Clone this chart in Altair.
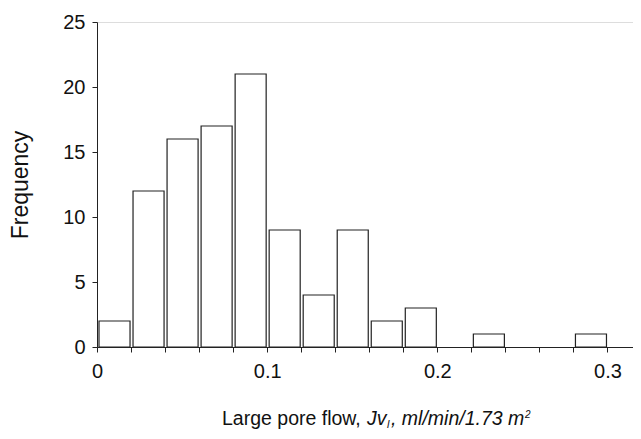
import altair as alt
import pandas as pd

# Histogram bins (width 0.02) and counts
bin_starts = [0.00, 0.02, 0.04, 0.06, 0.08, 0.10, 0.12, 0.14, 0.16, 0.18, 0.20, 0.22, 0.24, 0.26, 0.28]
counts = [2, 12, 16, 17, 21, 9, 4, 9, 2, 3, 0, 1, 0, 0, 1]
bin_width = 0.02

x_tick_values = [round(i * 0.02, 2) for i in range(16)]
y_tick_values = [0, 5, 10, 15, 20, 25]

df = pd.DataFrame({
    "start": bin_starts,
    "end": [round(s + bin_width, 2) for s in bin_starts],
    "count": counts,
})

FONT = "Liberation Sans"
W, H = 536, 325
TFS = 19.5  # title font size

bars = alt.Chart(df).transform_filter("datum.count > 0").mark_bar(
    fill="white", stroke="#222", strokeWidth=1.2, binSpacing=3
).encode(
    x=alt.X("start:Q", bin="binned",
            scale=alt.Scale(domain=[0, 0.315], nice=False, zero=False),
            axis=alt.Axis(values=x_tick_values, title=None,
                          labelExpr="abs(datum.value*10 - round(datum.value*10)) < 1e-6 ? format(datum.value, '') : ''",
                          labelFontSize=20, labelFont=FONT, labelColor="#111",
                          tickSize=5, tickColor="#222", domainColor="#222",
                          labelPadding=9, grid=False, labelFlush=False)),
    x2="end:Q",
    y=alt.Y("count:Q", scale=alt.Scale(domain=[0, 25], nice=False),
            axis=alt.Axis(values=y_tick_values, title="Frequency",
                          titleFontSize=23, titleFont=FONT, titleFontWeight="normal",
                          titleColor="#111", titlePadding=30,
                          labelFontSize=20, labelFont=FONT, labelColor="#111",
                          tickSize=5, tickColor="#222", domainColor="#222",
                          labelPadding=7, grid=False)),
)

t1 = alt.Chart(pd.DataFrame({"t": ["Large pore flow,"]})).mark_text(
    align="left", baseline="alphabetic", font=FONT, fontSize=TFS, color="#111"
).encode(text="t:N", x=alt.value(125), y=alt.value(403))

t2 = alt.Chart(pd.DataFrame({"t": ["Jv"]})).mark_text(
    align="left", baseline="alphabetic", font=FONT, fontSize=TFS, fontStyle="italic", color="#111"
).encode(text="t:N", x=alt.value(270), y=alt.value(403))

t3 = alt.Chart(pd.DataFrame({"t": ["l"]})).mark_text(
    align="left", baseline="alphabetic", font=FONT, fontSize=11, fontStyle="italic", color="#111"
).encode(text="t:N", x=alt.value(290), y=alt.value(406))

t4 = alt.Chart(pd.DataFrame({"t": [", ml/min/1.73 m"]})).mark_text(
    align="left", baseline="alphabetic", font=FONT, fontSize=TFS, fontStyle="italic", color="#111"
).encode(text="t:N", x=alt.value(294), y=alt.value(403))

t5 = alt.Chart(pd.DataFrame({"t": ["2"]})).mark_text(
    align="left", baseline="alphabetic", font=FONT, fontSize=10, fontStyle="italic", color="#111"
).encode(text="t:N", x=alt.value(428), y=alt.value(396))

chart = alt.layer(bars, t1, t2, t3, t4, t5).properties(
    width=W, height=H,
    autosize=alt.AutoSizeParams(type="none"),
    padding={"left": 89, "top": 14, "right": 0, "bottom": 84},
).configure_view(stroke=None).configure(background="white")

chart.save("out.html", embed_options={"renderer": "svg", "actions": False})
